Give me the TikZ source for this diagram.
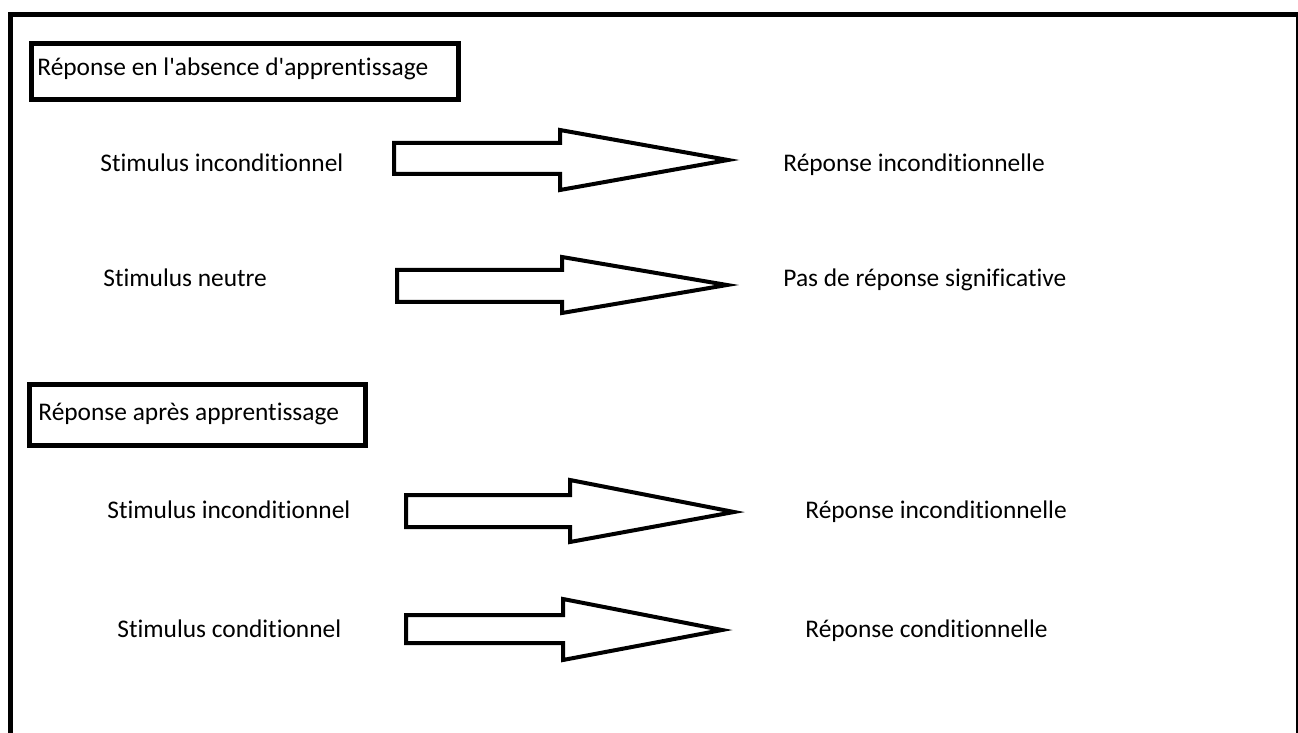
\documentclass[tikz,border=0pt]{standalone}
\usepackage{fontspec}
\setmainfont{Carlito}[Ligatures={TeXOff,NoCommon}]
\usepackage{tikz}

\tikzset{
  label/.style={anchor=base west, inner sep=0pt, font=\fontsize{12.7}{15}\selectfont},
  titlebox/.style={draw, line width=2.5pt},
  fatarrow/.style={draw, line width=2pt, line join=miter, fill=white}
}

\begin{document}
\begin{tikzpicture}[x=0.5pt, y=-0.5pt] % 1 unit = 1 pixel of the original
        \useasboundingbox (0,0) rectangle (1298,733);

        % Frame (open at the bottom)
        \begin{scope}
        \clip (0,0) rectangle (1298,733);
        \draw[line width=2.5pt] (10,760) -- (10,14.5) -- (1298,14.5);
        \draw[line width=1pt] (1296.5,14.5) -- (1296.5,760);
        \end{scope}

        % Before learning
        \draw[titlebox] (31,43.5) rectangle (458,100);
        \node[label] (title1) at (37,76) {Réponse en l'absence d'apprentissage};

        \node[label] (us1) at (100,172) {Stimulus inconditionnel};
        \node[label] (ur1) at (783,172) {Réponse inconditionnelle};
        \draw[fatarrow] (394,143) -- (560,143) -- (560,130) -- (728,160) -- (560,190) -- (560,174) -- (394,174) -- cycle;

        \node[label] (ns) at (103,286) {Stimulus neutre};
        \node[label] (nr) at (783,286) {Pas de réponse significative};
        \draw[fatarrow] (397,270) -- (562,270) -- (562,257) -- (727,285) -- (562,313) -- (562,302) -- (397,302) -- cycle;

        % After learning
        \draw[titlebox] (29.5,384.5) rectangle (365,445);
        \node[label] (title2) at (38,420) {Réponse après apprentissage};

        \node[label] (us2) at (107,518) {Stimulus inconditionnel};
        \node[label] (ur2) at (805,518) {Réponse inconditionnelle};
        \draw[fatarrow] (406,495) -- (570,495) -- (570,480) -- (734,512) -- (570,542) -- (570,527) -- (406,527) -- cycle;

        \node[label] (cs) at (117,637) {Stimulus conditionnel};
        \node[label] (cr) at (805,637) {Réponse conditionnelle};
        \draw[fatarrow] (406,615) -- (563,615) -- (563,599) -- (722,630) -- (563,660) -- (563,643) -- (406,643) -- cycle;
    \end{tikzpicture}
\end{document}
